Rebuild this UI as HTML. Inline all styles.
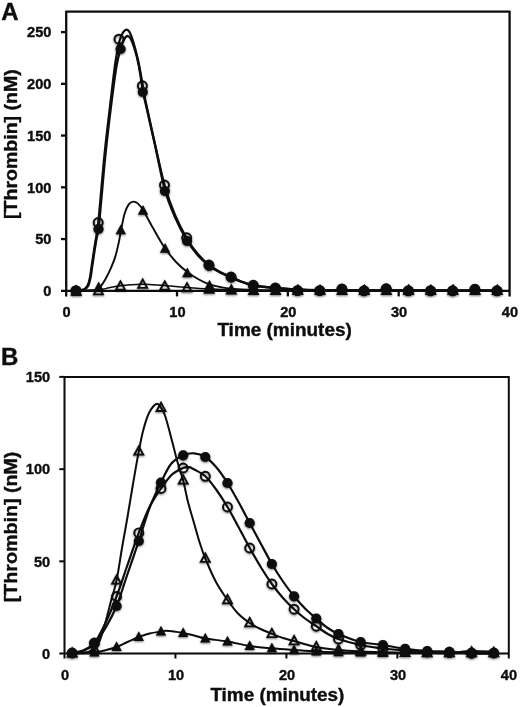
<!DOCTYPE html>
<html lang="en">
<head>
<meta charset="utf-8">
<title>Thrombin generation</title>
<style>
html,body{margin:0;padding:0;background:#fff;}
body{width:520px;height:707px;overflow:hidden;}
svg{display:block;}
</style>
</head>
<body>
<svg width="520" height="707" viewBox="0 0 520 707">
<defs><filter id="sh" x="-5%" y="-5%" width="110%" height="110%"><feGaussianBlur in="SourceAlpha" stdDeviation="0.9" result="b"/><feOffset in="b" dx="0.4" dy="1.3" result="o"/><feComponentTransfer in="o" result="s"><feFuncA type="linear" slope="0.55"/></feComponentTransfer><feMerge><feMergeNode in="s"/><feMergeNode in="SourceGraphic"/></feMerge></filter><filter id="soft" x="-2%" y="-2%" width="104%" height="104%"><feGaussianBlur stdDeviation="0.45"/></filter></defs>
<rect width="520" height="707" fill="#ffffff"/>
<g filter="url(#soft)">
<g fill="none" stroke="#0a0a0a" stroke-width="2.3" stroke-linecap="butt" stroke-linejoin="round">
<path d="M66.2,296.4 V11.6 H509.6 V296.4"/>
<path d="M61.0,290.8 H509.6"/>
<path d="M61.0,239.06 H66.2"/>
<path d="M61.0,187.32 H66.2"/>
<path d="M61.0,135.58 H66.2"/>
<path d="M61.0,83.84 H66.2"/>
<path d="M61.0,32.10 H66.2"/>
<path d="M177.03,290.8 V296.4"/>
<path d="M287.86,290.8 V296.4"/>
<path d="M398.69,290.8 V296.4"/>
</g>
<g fill="none" stroke="#0a0a0a" stroke-linejoin="round" stroke-linecap="round">
<path stroke-width="1.5" d="M76.00,290.80 C79.67,290.67 92.50,290.50 98.00,290.00 C103.50,289.50 105.33,288.50 109.00,287.80 C112.67,287.10 116.33,286.32 120.00,285.80 C123.67,285.28 127.33,284.95 131.00,284.70 C134.67,284.45 138.33,284.30 142.00,284.30 C145.67,284.30 149.33,284.50 153.00,284.70 C156.67,284.90 158.33,285.05 164.00,285.50 C169.67,285.95 179.50,286.83 187.00,287.40 C194.50,287.97 201.67,288.50 209.00,288.90 C216.33,289.30 220.00,289.58 231.00,289.80 C242.00,290.02 230.67,290.12 275.00,290.20 C319.33,290.28 460.00,290.28 497.00,290.30"/>
<path stroke-width="1.9" d="M76.00,290.80 C78.33,290.75 86.67,290.70 90.00,290.50 C93.33,290.30 94.25,290.27 96.00,289.60 C97.75,288.93 98.93,288.23 100.50,286.50 C102.07,284.77 103.65,282.30 105.40,279.20 C107.15,276.10 109.35,271.67 111.00,267.90 C112.65,264.13 114.00,260.85 115.30,256.60 C116.60,252.35 117.82,246.92 118.80,242.40 C119.78,237.88 120.25,234.23 121.20,229.50 C122.15,224.77 123.25,218.18 124.50,214.00 C125.75,209.82 127.23,206.47 128.70,204.40 C130.17,202.33 131.75,201.73 133.30,201.60 C134.85,201.47 136.38,202.20 138.00,203.60 C139.62,205.00 140.50,205.93 143.00,210.00 C145.50,214.07 149.42,221.75 153.00,228.00 C156.58,234.25 160.67,241.83 164.50,247.50 C168.33,253.17 172.20,257.92 176.00,262.00 C179.80,266.08 183.63,269.17 187.30,272.00 C190.97,274.83 194.42,276.97 198.00,279.00 C201.58,281.03 205.13,282.87 208.80,284.20 C212.47,285.53 216.33,286.23 220.00,287.00 C223.67,287.77 225.30,288.30 230.80,288.80 C236.30,289.30 241.47,289.72 253.00,290.00 C264.53,290.28 259.33,290.38 300.00,290.50 C340.67,290.62 464.17,290.67 497.00,290.70"/>
<path stroke-width="2.3" d="M76.00,290.60 C76.67,290.55 78.73,290.48 80.00,290.30 C81.27,290.12 82.57,289.95 83.60,289.50 C84.63,289.05 85.42,288.52 86.20,287.60 C86.98,286.68 87.63,285.87 88.30,284.00 C88.97,282.13 89.68,279.07 90.20,276.40 C90.72,273.73 90.92,271.30 91.40,268.00 C91.88,264.70 92.45,260.87 93.10,256.60 C93.75,252.33 94.48,247.67 95.30,242.40 C96.12,237.13 97.15,232.07 98.00,225.00 C98.85,217.93 99.23,212.50 100.40,200.00 C101.57,187.50 103.27,166.67 105.00,150.00 C106.73,133.33 109.05,114.67 110.80,100.00 C112.55,85.33 114.05,71.83 115.50,62.00 C116.95,52.17 118.25,45.92 119.50,41.00 C120.75,36.08 121.85,34.40 123.00,32.50 C124.15,30.60 125.32,29.68 126.40,29.60 C127.48,29.52 128.40,30.10 129.50,32.00 C130.60,33.90 131.58,36.33 133.00,41.00 C134.42,45.67 136.37,52.55 138.00,60.00 C139.63,67.45 141.58,79.03 142.80,85.70 C144.02,92.37 143.35,90.62 145.30,100.00 C147.25,109.38 151.30,127.83 154.50,142.00 C157.70,156.17 161.08,172.83 164.50,185.00 C167.92,197.17 171.28,206.08 175.00,215.00 C178.72,223.92 182.97,231.95 186.80,238.50 C190.63,245.05 194.30,249.88 198.00,254.30 C201.70,258.72 205.33,262.05 209.00,265.00 C212.67,267.95 216.33,270.00 220.00,272.00 C223.67,274.00 227.33,275.37 231.00,277.00 C234.67,278.63 238.25,280.42 242.00,281.80 C245.75,283.18 247.92,284.27 253.50,285.30 C259.08,286.33 268.17,287.30 275.50,288.00 C282.83,288.70 290.08,289.13 297.50,289.50 C304.92,289.87 309.58,290.05 320.00,290.20 C330.42,290.35 330.50,290.33 360.00,290.40 C389.50,290.47 474.17,290.57 497.00,290.60"/>
<path stroke-width="2.3" d="M76.00,290.80 C76.75,290.75 79.15,290.68 80.50,290.50 C81.85,290.32 83.07,290.15 84.10,289.70 C85.13,289.25 85.92,288.70 86.70,287.80 C87.48,286.90 88.13,286.13 88.80,284.30 C89.47,282.47 90.18,279.45 90.70,276.80 C91.22,274.15 91.42,271.70 91.90,268.40 C92.38,265.10 92.95,261.27 93.60,257.00 C94.25,252.73 94.97,247.63 95.80,242.80 C96.63,237.97 97.73,234.63 98.60,228.00 C99.47,221.37 99.83,215.50 101.00,203.00 C102.17,190.50 103.87,169.67 105.60,153.00 C107.33,136.33 109.58,117.50 111.40,103.00 C113.22,88.50 114.97,75.00 116.50,66.00 C118.03,57.00 119.35,53.42 120.60,49.00 C121.85,44.58 122.87,41.67 124.00,39.50 C125.13,37.33 126.32,36.17 127.40,36.00 C128.48,35.83 129.40,36.67 130.50,38.50 C131.60,40.33 132.67,42.75 134.00,47.00 C135.33,51.25 137.00,56.58 138.50,64.00 C140.00,71.42 141.75,84.62 143.00,91.50 C144.25,98.38 144.00,96.38 146.00,105.30 C148.00,114.22 151.83,130.83 155.00,145.00 C158.17,159.17 161.58,178.08 165.00,190.30 C168.42,202.52 171.83,209.93 175.50,218.30 C179.17,226.67 183.25,234.30 187.00,240.50 C190.75,246.70 194.28,251.28 198.00,255.50 C201.72,259.72 205.63,262.97 209.30,265.80 C212.97,268.63 216.35,270.57 220.00,272.50 C223.65,274.43 227.53,275.82 231.20,277.40 C234.87,278.98 238.23,280.65 242.00,282.00 C245.77,283.35 248.25,284.50 253.80,285.50 C259.35,286.50 268.02,287.32 275.30,288.00 C282.58,288.68 290.05,289.22 297.50,289.60 C304.95,289.98 309.58,290.15 320.00,290.30 C330.42,290.45 330.50,290.43 360.00,290.50 C389.50,290.57 474.17,290.67 497.00,290.70"/>
</g>
<g filter="url(#sh)">
<polygon points="76.2,286.3 71.7,294.6 80.7,294.6" fill="none" stroke="#0a0a0a" stroke-width="1.8" stroke-linejoin="miter"/>
<polygon points="98.4,286.0 93.9,294.3 102.9,294.3" fill="none" stroke="#0a0a0a" stroke-width="1.8" stroke-linejoin="miter"/>
<polygon points="120.5,281.3 116.0,289.6 125.0,289.6" fill="none" stroke="#0a0a0a" stroke-width="1.8" stroke-linejoin="miter"/>
<polygon points="142.7,279.5 138.2,287.8 147.2,287.8" fill="none" stroke="#0a0a0a" stroke-width="1.8" stroke-linejoin="miter"/>
<polygon points="164.8,281.3 160.3,289.6 169.3,289.6" fill="none" stroke="#0a0a0a" stroke-width="1.8" stroke-linejoin="miter"/>
<polygon points="187.0,283.1 182.5,291.4 191.5,291.4" fill="none" stroke="#0a0a0a" stroke-width="1.8" stroke-linejoin="miter"/>
<polygon points="209.2,284.5 204.7,292.8 213.7,292.8" fill="none" stroke="#0a0a0a" stroke-width="1.8" stroke-linejoin="miter"/>
<polygon points="231.3,285.4 226.8,293.7 235.8,293.7" fill="none" stroke="#0a0a0a" stroke-width="1.8" stroke-linejoin="miter"/>
<polygon points="253.5,285.9 249.0,294.2 258.0,294.2" fill="none" stroke="#0a0a0a" stroke-width="1.8" stroke-linejoin="miter"/>
<polygon points="275.6,285.9 271.1,294.2 280.1,294.2" fill="none" stroke="#0a0a0a" stroke-width="1.8" stroke-linejoin="miter"/>
<polygon points="297.8,285.9 293.3,294.2 302.3,294.2" fill="none" stroke="#0a0a0a" stroke-width="1.8" stroke-linejoin="miter"/>
<polygon points="320.0,285.9 315.5,294.2 324.5,294.2" fill="none" stroke="#0a0a0a" stroke-width="1.8" stroke-linejoin="miter"/>
<polygon points="342.1,285.9 337.6,294.2 346.6,294.2" fill="none" stroke="#0a0a0a" stroke-width="1.8" stroke-linejoin="miter"/>
<polygon points="364.3,285.9 359.8,294.2 368.8,294.2" fill="none" stroke="#0a0a0a" stroke-width="1.8" stroke-linejoin="miter"/>
<polygon points="386.4,285.9 381.9,294.2 390.9,294.2" fill="none" stroke="#0a0a0a" stroke-width="1.8" stroke-linejoin="miter"/>
<polygon points="408.6,285.9 404.1,294.2 413.1,294.2" fill="none" stroke="#0a0a0a" stroke-width="1.8" stroke-linejoin="miter"/>
<polygon points="430.8,285.9 426.3,294.2 435.3,294.2" fill="none" stroke="#0a0a0a" stroke-width="1.8" stroke-linejoin="miter"/>
<polygon points="452.9,285.9 448.4,294.2 457.4,294.2" fill="none" stroke="#0a0a0a" stroke-width="1.8" stroke-linejoin="miter"/>
<polygon points="475.1,285.9 470.6,294.2 479.6,294.2" fill="none" stroke="#0a0a0a" stroke-width="1.8" stroke-linejoin="miter"/>
<polygon points="497.2,285.9 492.7,294.2 501.7,294.2" fill="none" stroke="#0a0a0a" stroke-width="1.8" stroke-linejoin="miter"/>
<polygon points="76.5,286.4 71.3,296.0 81.7,296.0" fill="#0a0a0a"/>
<polygon points="98.7,281.6 93.5,291.2 103.9,291.2" fill="#0a0a0a"/>
<polygon points="120.8,224.6 115.6,234.2 126.0,234.2" fill="#0a0a0a"/>
<polygon points="143.0,205.1 137.8,214.7 148.2,214.7" fill="#0a0a0a"/>
<polygon points="165.1,243.1 159.9,252.7 170.3,252.7" fill="#0a0a0a"/>
<polygon points="187.3,267.6 182.1,277.2 192.5,277.2" fill="#0a0a0a"/>
<polygon points="209.5,279.8 204.3,289.4 214.7,289.4" fill="#0a0a0a"/>
<polygon points="231.6,284.4 226.4,294.0 236.8,294.0" fill="#0a0a0a"/>
<polygon points="253.8,285.2 248.6,294.8 259.0,294.8" fill="#0a0a0a"/>
<polygon points="275.9,285.2 270.7,294.8 281.1,294.8" fill="#0a0a0a"/>
<polygon points="298.1,284.0 292.9,293.6 303.3,293.6" fill="#0a0a0a"/>
<polygon points="320.3,284.4 315.1,294.0 325.5,294.0" fill="#0a0a0a"/>
<polygon points="342.4,285.2 337.2,294.8 347.6,294.8" fill="#0a0a0a"/>
<polygon points="364.6,284.0 359.4,293.6 369.8,293.6" fill="#0a0a0a"/>
<polygon points="386.7,285.2 381.5,294.8 391.9,294.8" fill="#0a0a0a"/>
<polygon points="408.9,283.8 403.7,293.4 414.1,293.4" fill="#0a0a0a"/>
<polygon points="431.1,284.2 425.9,293.8 436.3,293.8" fill="#0a0a0a"/>
<polygon points="453.2,283.8 448.0,293.4 458.4,293.4" fill="#0a0a0a"/>
<polygon points="475.4,285.2 470.2,294.8 480.6,294.8" fill="#0a0a0a"/>
<polygon points="497.5,284.0 492.3,293.6 502.7,293.6" fill="#0a0a0a"/>
<circle cx="75.9" cy="290.6" r="4.5" fill="none" stroke="#0a0a0a" stroke-width="1.9"/>
<circle cx="98.2" cy="222.5" r="4.5" fill="none" stroke="#0a0a0a" stroke-width="1.9"/>
<circle cx="119.0" cy="39.2" r="4.5" fill="none" stroke="#0a0a0a" stroke-width="1.9"/>
<circle cx="142.4" cy="85.8" r="4.5" fill="none" stroke="#0a0a0a" stroke-width="1.9"/>
<circle cx="164.5" cy="185.0" r="4.5" fill="none" stroke="#0a0a0a" stroke-width="1.9"/>
<circle cx="186.7" cy="237.8" r="4.5" fill="none" stroke="#0a0a0a" stroke-width="1.9"/>
<circle cx="208.9" cy="265.0" r="4.5" fill="none" stroke="#0a0a0a" stroke-width="1.9"/>
<circle cx="231.0" cy="277.0" r="4.5" fill="none" stroke="#0a0a0a" stroke-width="1.9"/>
<circle cx="253.2" cy="285.3" r="4.5" fill="none" stroke="#0a0a0a" stroke-width="1.9"/>
<circle cx="275.3" cy="288.0" r="4.5" fill="none" stroke="#0a0a0a" stroke-width="1.9"/>
<circle cx="297.5" cy="290.6" r="4.5" fill="none" stroke="#0a0a0a" stroke-width="1.9"/>
<circle cx="319.7" cy="290.6" r="4.5" fill="none" stroke="#0a0a0a" stroke-width="1.9"/>
<circle cx="341.8" cy="289.0" r="4.5" fill="none" stroke="#0a0a0a" stroke-width="1.9"/>
<circle cx="364.0" cy="290.8" r="4.5" fill="none" stroke="#0a0a0a" stroke-width="1.9"/>
<circle cx="386.1" cy="288.8" r="4.5" fill="none" stroke="#0a0a0a" stroke-width="1.9"/>
<circle cx="408.3" cy="290.8" r="4.5" fill="none" stroke="#0a0a0a" stroke-width="1.9"/>
<circle cx="430.5" cy="290.8" r="4.5" fill="none" stroke="#0a0a0a" stroke-width="1.9"/>
<circle cx="452.6" cy="290.8" r="4.5" fill="none" stroke="#0a0a0a" stroke-width="1.9"/>
<circle cx="474.8" cy="289.3" r="4.5" fill="none" stroke="#0a0a0a" stroke-width="1.9"/>
<circle cx="496.9" cy="290.8" r="4.5" fill="none" stroke="#0a0a0a" stroke-width="1.9"/>
<circle cx="76.3" cy="290.8" r="5.1" fill="#0a0a0a"/>
<circle cx="98.5" cy="229.0" r="5.1" fill="#0a0a0a"/>
<circle cx="120.6" cy="49.0" r="5.1" fill="#0a0a0a"/>
<circle cx="142.8" cy="92.0" r="5.1" fill="#0a0a0a"/>
<circle cx="164.9" cy="191.0" r="5.1" fill="#0a0a0a"/>
<circle cx="187.1" cy="241.0" r="5.1" fill="#0a0a0a"/>
<circle cx="209.3" cy="265.8" r="5.1" fill="#0a0a0a"/>
<circle cx="231.4" cy="277.4" r="5.1" fill="#0a0a0a"/>
<circle cx="253.6" cy="285.5" r="5.1" fill="#0a0a0a"/>
<circle cx="275.7" cy="288.0" r="5.1" fill="#0a0a0a"/>
<circle cx="297.9" cy="290.6" r="5.1" fill="#0a0a0a"/>
<circle cx="320.1" cy="290.6" r="5.1" fill="#0a0a0a"/>
<circle cx="342.2" cy="289.0" r="5.1" fill="#0a0a0a"/>
<circle cx="364.4" cy="290.8" r="5.1" fill="#0a0a0a"/>
<circle cx="386.5" cy="288.8" r="5.1" fill="#0a0a0a"/>
<circle cx="408.7" cy="290.8" r="5.1" fill="#0a0a0a"/>
<circle cx="430.9" cy="290.8" r="5.1" fill="#0a0a0a"/>
<circle cx="453.0" cy="290.8" r="5.1" fill="#0a0a0a"/>
<circle cx="475.2" cy="289.3" r="5.1" fill="#0a0a0a"/>
<circle cx="497.3" cy="290.8" r="5.1" fill="#0a0a0a"/>
</g>
<g fill="none" stroke="#0a0a0a" stroke-width="2.0">
<path d="M64.5,658.5 V376.9 H508.8 V658.5"/>
<path d="M59.3,376.9 H64.5"/>
<path d="M59.3,653.5 H508.8"/>
<path d="M59.3,561.33 H64.5"/>
<path d="M59.3,469.16 H64.5"/>
<path d="M175.45,653.5 V658.5"/>
<path d="M286.40,653.5 V658.5"/>
<path d="M397.35,653.5 V658.5"/>
</g>
<g fill="none" stroke="#0a0a0a" stroke-linejoin="round" stroke-linecap="round">
<path stroke-width="2.0" d="M72.20,653.30 C74.00,653.18 80.20,652.88 83.00,652.60 C85.80,652.32 87.10,652.20 89.00,651.60 C90.90,651.00 92.56,650.93 94.39,649.00 C96.22,647.07 98.15,644.50 100.00,640.00 C101.85,635.50 103.67,628.50 105.50,622.00 C107.33,615.50 109.15,607.93 111.00,601.00 C112.85,594.07 114.75,589.23 116.58,580.40 C118.41,571.57 120.18,558.57 122.00,548.00 C123.82,537.43 125.67,527.67 127.50,517.00 C129.33,506.33 131.12,494.93 133.00,484.00 C134.88,473.07 137.05,460.40 138.77,451.40 C140.49,442.40 141.60,436.40 143.30,430.00 C145.00,423.60 146.82,417.33 149.00,413.00 C151.18,408.67 154.41,404.88 156.40,404.00 C158.39,403.12 159.44,405.53 160.96,407.70 C162.48,409.87 163.61,411.28 165.50,417.00 C167.39,422.72 170.30,434.50 172.30,442.00 C174.30,449.50 175.69,455.60 177.50,462.00 C179.31,468.40 181.40,473.73 183.15,480.40 C184.90,487.07 186.19,494.90 188.00,502.00 C189.81,509.10 192.08,516.33 194.00,523.00 C195.92,529.67 197.61,536.08 199.50,542.00 C201.39,547.92 202.59,551.83 205.34,558.50 C208.09,565.17 212.30,575.08 216.00,582.00 C219.70,588.92 223.86,594.75 227.53,600.00 C231.20,605.25 234.30,609.67 238.00,613.50 C241.70,617.33 245.97,620.42 249.72,623.00 C253.47,625.58 256.80,627.20 260.50,629.00 C264.20,630.80 268.16,632.30 271.91,633.80 C275.66,635.30 279.30,636.80 283.00,638.00 C286.70,639.20 288.55,639.50 294.10,641.00 C299.65,642.50 308.89,645.50 316.29,647.00 C323.69,648.50 331.08,649.25 338.48,650.00 C345.88,650.75 353.27,651.12 360.67,651.50 C368.07,651.88 375.46,652.08 382.86,652.30 C390.26,652.52 397.65,652.68 405.05,652.80 C412.45,652.92 419.84,652.97 427.24,653.00 C434.64,653.03 442.03,653.00 449.43,653.00 C456.83,653.00 464.22,653.00 471.62,653.00 C479.02,653.00 490.11,653.00 493.81,653.00"/>
<path stroke-width="2.0" d="M72.20,653.30 C74.00,653.28 79.30,653.32 83.00,653.20 C86.70,653.08 90.64,653.08 94.39,652.60 C98.14,652.12 101.80,651.23 105.50,650.30 C109.20,649.37 112.91,648.38 116.58,647.00 C120.25,645.62 123.80,643.67 127.50,642.00 C131.20,640.33 135.10,638.42 138.77,637.00 C142.44,635.58 145.80,634.42 149.50,633.50 C153.20,632.58 158.21,631.95 160.96,631.50 C163.71,631.05 164.16,630.83 166.00,630.80 C167.84,630.77 169.14,630.93 172.00,631.30 C174.86,631.67 179.48,632.30 183.15,633.00 C186.82,633.70 190.30,634.58 194.00,635.50 C197.70,636.42 199.75,637.50 205.34,638.50 C210.93,639.50 220.13,640.25 227.53,641.50 C234.93,642.75 242.32,644.87 249.72,646.00 C257.12,647.13 264.51,647.63 271.91,648.30 C279.31,648.97 286.70,649.47 294.10,650.00 C301.50,650.53 308.89,651.12 316.29,651.50 C323.69,651.88 331.08,652.10 338.48,652.30 C345.88,652.50 353.27,652.58 360.67,652.70 C368.07,652.82 375.46,652.95 382.86,653.00 C390.26,653.05 397.65,653.00 405.05,653.00 C412.45,653.00 419.84,653.00 427.24,653.00 C434.64,653.00 442.03,653.33 449.43,653.00 C456.83,652.67 464.22,651.20 471.62,651.00 C479.02,650.80 490.11,651.67 493.81,651.80"/>
<path stroke-width="2.2" d="M72.20,653.00 C74.00,652.58 79.30,652.17 83.00,650.50 C86.70,648.83 90.64,647.58 94.39,643.00 C98.14,638.42 101.80,630.75 105.50,623.00 C109.20,615.25 112.91,606.17 116.58,596.50 C120.25,586.83 123.80,575.60 127.50,565.00 C131.20,554.40 135.10,542.57 138.77,532.90 C142.44,523.23 145.80,514.40 149.50,507.00 C153.20,499.60 157.21,493.92 160.96,488.50 C164.71,483.08 168.30,477.92 172.00,474.50 C175.70,471.08 180.32,469.22 183.15,468.00 C185.98,466.78 187.14,466.95 189.00,467.20 C190.86,467.45 191.58,467.98 194.30,469.50 C197.02,471.02 201.64,472.88 205.34,476.30 C209.04,479.72 212.80,484.88 216.50,490.00 C220.20,495.12 223.86,500.83 227.53,507.00 C231.20,513.17 234.80,520.17 238.50,527.00 C242.20,533.83 245.97,541.25 249.72,548.00 C253.47,554.75 257.30,561.50 261.00,567.50 C264.70,573.50 268.24,578.92 271.91,584.00 C275.58,589.08 279.30,593.80 283.00,598.00 C286.70,602.20 290.43,605.78 294.10,609.20 C297.77,612.62 301.30,615.67 305.00,618.50 C308.70,621.33 312.62,623.70 316.29,626.20 C319.96,628.70 323.30,631.37 327.00,633.50 C330.70,635.63 332.87,637.08 338.48,639.00 C344.09,640.92 353.27,643.42 360.67,645.00 C368.07,646.58 375.46,647.58 382.86,648.50 C390.26,649.42 397.65,649.92 405.05,650.50 C412.45,651.08 419.84,651.65 427.24,652.00 C434.64,652.35 442.03,652.43 449.43,652.60 C456.83,652.77 464.22,652.93 471.62,653.00 C479.02,653.07 490.11,653.00 493.81,653.00"/>
<path stroke-width="2.2" d="M72.20,653.00 C74.00,652.67 79.30,652.55 83.00,651.00 C86.70,649.45 90.64,647.53 94.39,643.70 C98.14,639.87 101.80,634.28 105.50,628.00 C109.20,621.72 112.91,615.00 116.58,606.00 C120.25,597.00 123.80,584.83 127.50,574.00 C131.20,563.17 135.10,552.00 138.77,541.00 C142.44,530.00 145.80,517.75 149.50,508.00 C153.20,498.25 157.38,489.83 160.96,482.50 C164.54,475.17 167.30,468.53 171.00,464.00 C174.70,459.47 179.27,457.08 183.15,455.30 C187.03,453.52 190.60,453.02 194.30,453.30 C198.00,453.58 201.64,454.63 205.34,457.00 C209.04,459.37 212.80,463.17 216.50,467.50 C220.20,471.83 223.86,477.25 227.53,483.00 C231.20,488.75 234.80,495.33 238.50,502.00 C242.20,508.67 245.97,516.00 249.72,523.00 C253.47,530.00 257.30,537.17 261.00,544.00 C264.70,550.83 268.24,557.75 271.91,564.00 C275.58,570.25 279.30,576.12 283.00,581.50 C286.70,586.88 290.43,591.80 294.10,596.30 C297.77,600.80 301.30,604.80 305.00,608.50 C308.70,612.20 312.62,615.33 316.29,618.50 C319.96,621.67 323.30,624.92 327.00,627.50 C330.70,630.08 332.87,631.58 338.48,634.00 C344.09,636.42 353.27,640.17 360.67,642.00 C368.07,643.83 375.46,643.87 382.86,645.00 C390.26,646.13 397.65,647.80 405.05,648.80 C412.45,649.80 419.84,650.50 427.24,651.00 C434.64,651.50 442.03,651.37 449.43,651.80 C456.83,652.23 464.22,653.37 471.62,653.60 C479.02,653.83 490.11,653.27 493.81,653.20"/>
</g>
<g filter="url(#sh)">
<polygon points="72.2,648.3 67.7,656.6 76.7,656.6" fill="none" stroke="#0a0a0a" stroke-width="1.8" stroke-linejoin="miter"/>
<polygon points="94.4,644.0 89.9,652.3 98.9,652.3" fill="none" stroke="#0a0a0a" stroke-width="1.8" stroke-linejoin="miter"/>
<polygon points="116.6,575.4 112.1,583.7 121.1,583.7" fill="none" stroke="#0a0a0a" stroke-width="1.8" stroke-linejoin="miter"/>
<polygon points="138.8,446.4 134.3,454.7 143.3,454.7" fill="none" stroke="#0a0a0a" stroke-width="1.8" stroke-linejoin="miter"/>
<polygon points="161.0,402.7 156.5,411.0 165.5,411.0" fill="none" stroke="#0a0a0a" stroke-width="1.8" stroke-linejoin="miter"/>
<polygon points="183.2,475.4 178.7,483.7 187.7,483.7" fill="none" stroke="#0a0a0a" stroke-width="1.8" stroke-linejoin="miter"/>
<polygon points="205.3,553.5 200.8,561.8 209.8,561.8" fill="none" stroke="#0a0a0a" stroke-width="1.8" stroke-linejoin="miter"/>
<polygon points="227.5,595.0 223.0,603.3 232.0,603.3" fill="none" stroke="#0a0a0a" stroke-width="1.8" stroke-linejoin="miter"/>
<polygon points="249.7,618.0 245.2,626.3 254.2,626.3" fill="none" stroke="#0a0a0a" stroke-width="1.8" stroke-linejoin="miter"/>
<polygon points="271.9,628.8 267.4,637.1 276.4,637.1" fill="none" stroke="#0a0a0a" stroke-width="1.8" stroke-linejoin="miter"/>
<polygon points="294.1,636.0 289.6,644.3 298.6,644.3" fill="none" stroke="#0a0a0a" stroke-width="1.8" stroke-linejoin="miter"/>
<polygon points="316.3,642.0 311.8,650.3 320.8,650.3" fill="none" stroke="#0a0a0a" stroke-width="1.8" stroke-linejoin="miter"/>
<polygon points="338.5,645.0 334.0,653.3 343.0,653.3" fill="none" stroke="#0a0a0a" stroke-width="1.8" stroke-linejoin="miter"/>
<polygon points="360.7,646.5 356.2,654.8 365.2,654.8" fill="none" stroke="#0a0a0a" stroke-width="1.8" stroke-linejoin="miter"/>
<polygon points="382.9,647.3 378.4,655.6 387.4,655.6" fill="none" stroke="#0a0a0a" stroke-width="1.8" stroke-linejoin="miter"/>
<polygon points="405.1,647.8 400.6,656.1 409.6,656.1" fill="none" stroke="#0a0a0a" stroke-width="1.8" stroke-linejoin="miter"/>
<polygon points="427.2,648.0 422.7,656.3 431.7,656.3" fill="none" stroke="#0a0a0a" stroke-width="1.8" stroke-linejoin="miter"/>
<polygon points="449.4,648.0 444.9,656.3 453.9,656.3" fill="none" stroke="#0a0a0a" stroke-width="1.8" stroke-linejoin="miter"/>
<polygon points="471.6,648.0 467.1,656.3 476.1,656.3" fill="none" stroke="#0a0a0a" stroke-width="1.8" stroke-linejoin="miter"/>
<polygon points="493.8,648.0 489.3,656.3 498.3,656.3" fill="none" stroke="#0a0a0a" stroke-width="1.8" stroke-linejoin="miter"/>
<polygon points="72.2,647.6 67.0,657.2 77.4,657.2" fill="#0a0a0a"/>
<polygon points="94.4,646.9 89.2,656.5 99.6,656.5" fill="#0a0a0a"/>
<polygon points="116.6,641.3 111.4,650.9 121.8,650.9" fill="#0a0a0a"/>
<polygon points="138.8,631.3 133.6,640.9 144.0,640.9" fill="#0a0a0a"/>
<polygon points="161.0,625.8 155.8,635.4 166.2,635.4" fill="#0a0a0a"/>
<polygon points="183.2,627.3 178.0,636.9 188.3,636.9" fill="#0a0a0a"/>
<polygon points="205.3,632.8 200.1,642.4 210.5,642.4" fill="#0a0a0a"/>
<polygon points="227.5,635.8 222.3,645.4 232.7,645.4" fill="#0a0a0a"/>
<polygon points="249.7,640.3 244.5,649.9 254.9,649.9" fill="#0a0a0a"/>
<polygon points="271.9,642.6 266.7,652.2 277.1,652.2" fill="#0a0a0a"/>
<polygon points="294.1,644.3 288.9,653.9 299.3,653.9" fill="#0a0a0a"/>
<polygon points="316.3,645.8 311.1,655.4 321.5,655.4" fill="#0a0a0a"/>
<polygon points="338.5,646.6 333.3,656.2 343.7,656.2" fill="#0a0a0a"/>
<polygon points="360.7,647.0 355.5,656.6 365.9,656.6" fill="#0a0a0a"/>
<polygon points="382.9,647.3 377.7,656.9 388.1,656.9" fill="#0a0a0a"/>
<polygon points="405.1,647.3 399.9,656.9 410.2,656.9" fill="#0a0a0a"/>
<polygon points="427.2,647.3 422.0,656.9 432.4,656.9" fill="#0a0a0a"/>
<polygon points="449.4,647.3 444.2,656.9 454.6,656.9" fill="#0a0a0a"/>
<polygon points="471.6,645.3 466.4,654.9 476.8,654.9" fill="#0a0a0a"/>
<polygon points="493.8,646.1 488.6,655.7 499.0,655.7" fill="#0a0a0a"/>
<circle cx="72.2" cy="653.0" r="4.5" fill="none" stroke="#0a0a0a" stroke-width="1.9"/>
<circle cx="94.4" cy="643.0" r="4.5" fill="none" stroke="#0a0a0a" stroke-width="1.9"/>
<circle cx="116.6" cy="596.5" r="4.5" fill="none" stroke="#0a0a0a" stroke-width="1.9"/>
<circle cx="138.8" cy="532.9" r="4.5" fill="none" stroke="#0a0a0a" stroke-width="1.9"/>
<circle cx="161.0" cy="488.5" r="4.5" fill="none" stroke="#0a0a0a" stroke-width="1.9"/>
<circle cx="183.2" cy="468.0" r="4.5" fill="none" stroke="#0a0a0a" stroke-width="1.9"/>
<circle cx="205.3" cy="476.3" r="4.5" fill="none" stroke="#0a0a0a" stroke-width="1.9"/>
<circle cx="227.5" cy="507.0" r="4.5" fill="none" stroke="#0a0a0a" stroke-width="1.9"/>
<circle cx="249.7" cy="548.0" r="4.5" fill="none" stroke="#0a0a0a" stroke-width="1.9"/>
<circle cx="271.9" cy="584.0" r="4.5" fill="none" stroke="#0a0a0a" stroke-width="1.9"/>
<circle cx="294.1" cy="609.2" r="4.5" fill="none" stroke="#0a0a0a" stroke-width="1.9"/>
<circle cx="316.3" cy="626.2" r="4.5" fill="none" stroke="#0a0a0a" stroke-width="1.9"/>
<circle cx="338.5" cy="639.0" r="4.5" fill="none" stroke="#0a0a0a" stroke-width="1.9"/>
<circle cx="360.7" cy="645.0" r="4.5" fill="none" stroke="#0a0a0a" stroke-width="1.9"/>
<circle cx="382.9" cy="648.5" r="4.5" fill="none" stroke="#0a0a0a" stroke-width="1.9"/>
<circle cx="405.1" cy="650.5" r="4.5" fill="none" stroke="#0a0a0a" stroke-width="1.9"/>
<circle cx="427.2" cy="652.0" r="4.5" fill="none" stroke="#0a0a0a" stroke-width="1.9"/>
<circle cx="449.4" cy="652.6" r="4.5" fill="none" stroke="#0a0a0a" stroke-width="1.9"/>
<circle cx="471.6" cy="653.0" r="4.5" fill="none" stroke="#0a0a0a" stroke-width="1.9"/>
<circle cx="493.8" cy="653.0" r="4.5" fill="none" stroke="#0a0a0a" stroke-width="1.9"/>
<circle cx="72.2" cy="653.0" r="5.1" fill="#0a0a0a"/>
<circle cx="94.4" cy="643.7" r="5.1" fill="#0a0a0a"/>
<circle cx="116.6" cy="606.0" r="5.1" fill="#0a0a0a"/>
<circle cx="138.8" cy="541.0" r="5.1" fill="#0a0a0a"/>
<circle cx="161.0" cy="482.5" r="5.1" fill="#0a0a0a"/>
<circle cx="183.2" cy="455.3" r="5.1" fill="#0a0a0a"/>
<circle cx="205.3" cy="457.0" r="5.1" fill="#0a0a0a"/>
<circle cx="227.5" cy="483.0" r="5.1" fill="#0a0a0a"/>
<circle cx="249.7" cy="523.0" r="5.1" fill="#0a0a0a"/>
<circle cx="271.9" cy="564.0" r="5.1" fill="#0a0a0a"/>
<circle cx="294.1" cy="596.3" r="5.1" fill="#0a0a0a"/>
<circle cx="316.3" cy="618.5" r="5.1" fill="#0a0a0a"/>
<circle cx="338.5" cy="634.0" r="5.1" fill="#0a0a0a"/>
<circle cx="360.7" cy="642.0" r="5.1" fill="#0a0a0a"/>
<circle cx="382.9" cy="645.0" r="5.1" fill="#0a0a0a"/>
<circle cx="405.1" cy="648.8" r="5.1" fill="#0a0a0a"/>
<circle cx="427.2" cy="651.0" r="5.1" fill="#0a0a0a"/>
<circle cx="449.4" cy="651.8" r="5.1" fill="#0a0a0a"/>
<circle cx="471.6" cy="653.6" r="5.1" fill="#0a0a0a"/>
<circle cx="493.8" cy="653.2" r="5.1" fill="#0a0a0a"/>
</g>
<g font-family="'Liberation Sans', Arial, sans-serif" font-weight="bold" fill="#0a0a0a" stroke="#0a0a0a" stroke-width="0.35" stroke-linejoin="round">
<text x="1.2" y="19.5" font-size="24">A</text>
<text x="0.9" y="365.2" font-size="24">B</text>
<g font-size="14.6" text-anchor="end">
<text x="51.4" y="296.0">0</text>
<text x="51.4" y="244.3">50</text>
<text x="51.4" y="192.5">100</text>
<text x="51.4" y="140.8">150</text>
<text x="51.4" y="89.0">200</text>
<text x="51.4" y="37.3">250</text>
<text x="50.2" y="658.7">0</text>
<text x="50.2" y="566.5">50</text>
<text x="50.2" y="474.4">100</text>
<text x="50.2" y="382.2">150</text>
</g>
<g font-size="14.6" text-anchor="middle">
<text x="66.6" y="317.4">0</text>
<text x="177.4" y="317.4">10</text>
<text x="288.3" y="317.4">20</text>
<text x="399.1" y="317.4">30</text>
<text x="509.9" y="317.4">40</text>
<text x="65.1" y="680.4">0</text>
<text x="176.0" y="680.4">10</text>
<text x="287.0" y="680.4">20</text>
<text x="398.0" y="680.4">30</text>
<text x="508.9" y="680.4">40</text>
</g>
<g font-size="17.6">
<text x="217.4" y="336" textLength="134.4" lengthAdjust="spacingAndGlyphs">Time (minutes)</text>
<text x="210.4" y="700.8" textLength="134.0" lengthAdjust="spacingAndGlyphs">Time (minutes)</text>
<text transform="translate(16.8,218.9) rotate(-90)" textLength="149.6" lengthAdjust="spacingAndGlyphs">[Thrombin] (nM)</text>
<text transform="translate(16.7,602.2) rotate(-90)" textLength="150.6" lengthAdjust="spacingAndGlyphs">[Thrombin] (nM)</text>
</g>
</g>
</g>
</svg>
</body>
</html>
